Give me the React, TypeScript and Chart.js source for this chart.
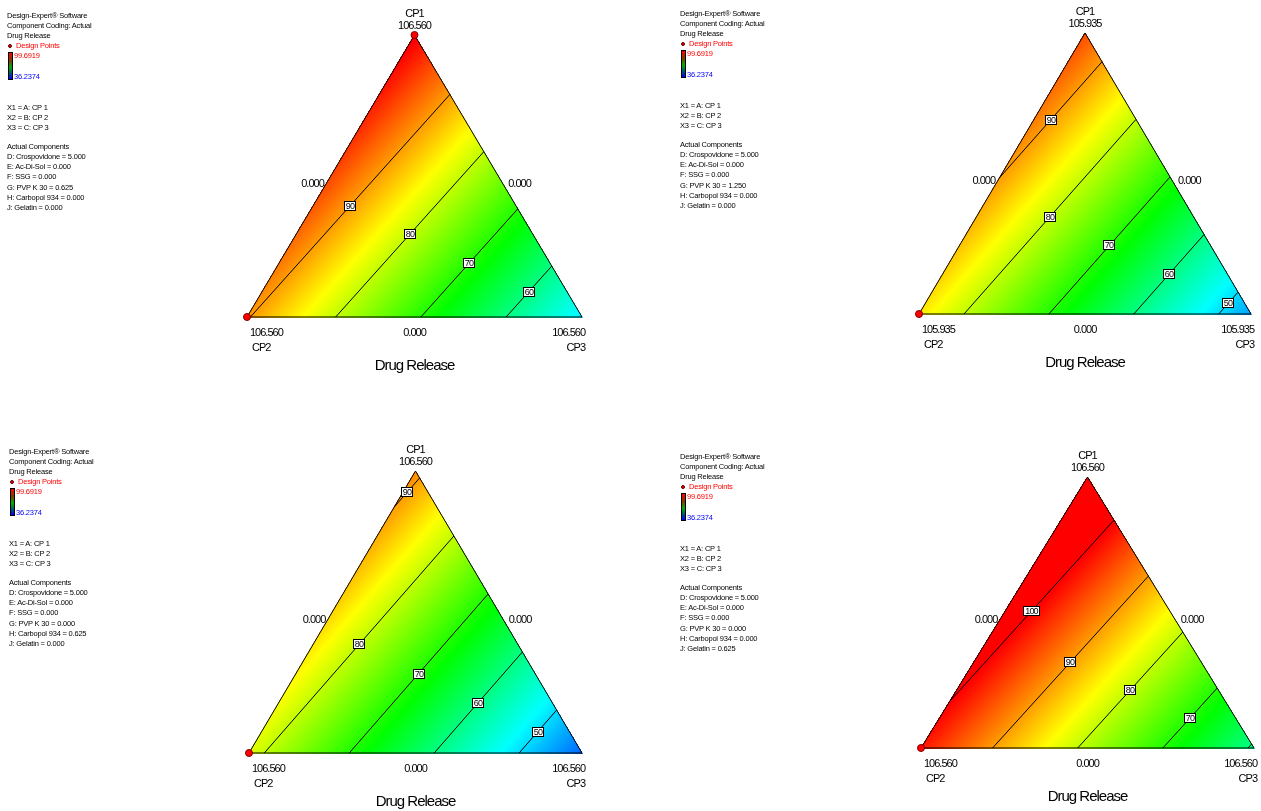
import React, { useEffect, useRef } from "react";
import { Chart, registerables } from "chart.js";

Chart.register(...registerables);

const PAGE_W = 1261;
const PAGE_H = 811;

// ---------------- data ----------------
const componentNames = ["CP1", "CP2", "CP3"];
const responseName = "Drug Release";
// fitted Drug Release at the pure-component vertices
const cp1Response = [100.4, 95.0, 91.2, 107.7];
const cp2Response = [90.4, 85.3, 81.8, 98.4];
const cp3Response = [51.1, 46.2, 42.6, 59.3];
const contourLevels = [
  [90, 80, 70, 60],
  [90, 80, 70, 60, 50],
  [90, 80, 70, 60, 50],
  [100, 90, 80, 70, 60],
];
const labelledLevels = [
  [90, 80, 70, 60],
  [90, 80, 70, 60, 50],
  [90, 80, 70, 60, 50],
  [100, 90, 80, 70],
];
const vertexTickLabels = ["106.560", "105.935", "106.560", "106.560"];
const edgeTickLabel = "0.000";
const designPointVertices = [["CP1", "CP2"], ["CP2"], ["CP2"], ["CP2"]];
const colorHigh = 99.6919;
const colorLow = 36.2374;
const crospovidone = ["5.000", "5.000", "5.000", "5.000"];
const acDiSol = ["0.000", "0.000", "0.000", "0.000"];
const ssg = ["0.000", "0.000", "0.000", "0.000"];
const pvpK30 = ["0.625", "1.250", "0.000", "0.000"];
const carbopol934 = ["0.000", "0.000", "0.625", "0.000"];
const gelatin = ["0.000", "0.000", "0.000", "0.625"];

// ---------------- layout ----------------
const panels = [
  { left: 247, right: 582, top: 35, bottom: 317, lx: 7, ly: 16 },
  { left: 919, right: 1251, top: 33, bottom: 314, lx: 680, ly: 14 },
  { left: 249, right: 582, top: 471, bottom: 753, lx: 9, ly: 452 },
  { left: 921, right: 1254, top: 477, bottom: 748, lx: 680, ly: 457 },
];

const FONT = '"Liberation Sans", Arial, Helvetica, sans-serif';

type Bary = number[]; // [CP1, CP2, CP3]
const toXY = (b: Bary) => ({ x: b[2] + b[0] / 2, y: b[0] });
const vertexBary: Record<string, Bary> = {
  CP1: [1, 0, 0],
  CP2: [0, 1, 0],
  CP3: [0, 0, 1],
};

function contourSegment(v: number[], L: number) {
  const verts = [vertexBary.CP1, vertexBary.CP2, vertexBary.CP3];
  const pts: { x: number; y: number }[] = [];
  const edges = [
    [1, 2],
    [2, 0],
    [0, 1],
  ];
  for (const [i, j] of edges) {
    const vi = v[i];
    const vj = v[j];
    if (vi === vj) continue;
    if ((L - vi) * (L - vj) <= 0) {
      const t = (L - vi) / (vj - vi);
      const b = verts[i].map((q, k) => q * (1 - t) + verts[j][k] * t);
      pts.push(toXY(b));
    }
  }
  return pts.slice(0, 2);
}

function ramp(val: number): [number, number, number] {
  let t = (val - colorLow) / (colorHigh - colorLow);
  t = Math.max(0, Math.min(1, t));
  const stops: [number, number, number, number][] = [
    [0, 0, 0, 255],
    [0.25, 0, 255, 255],
    [0.5, 0, 255, 0],
    [0.75, 255, 255, 0],
    [1, 255, 0, 0],
  ];
  for (let k = 0; k < stops.length - 1; k++) {
    const a = stops[k];
    const b = stops[k + 1];
    if (t <= b[0]) {
      const f = (t - a[0]) / (b[0] - a[0]);
      return [
        a[1] + (b[1] - a[1]) * f,
        a[2] + (b[2] - a[2]) * f,
        a[3] + (b[3] - a[3]) * f,
      ];
    }
  }
  return [255, 0, 0];
}

function TernaryChart({ idx }: { idx: number }) {
  const ref = useRef<HTMLCanvasElement | null>(null);
  useEffect(() => {
    const canvas = ref.current;
    if (!canvas) return;
    const p = panels[idx];
    const v = [cp1Response[idx], cp2Response[idx], cp3Response[idx]];

    const fillPlugin = {
      id: "ternaryFill" + idx,
      beforeDatasetsDraw(chart: any) {
        const { ctx, chartArea, scales } = chart;
        const x0 = Math.floor(chartArea.left);
        const y0 = Math.floor(chartArea.top);
        const w = Math.ceil(chartArea.right) - x0 + 1;
        const h = Math.ceil(chartArea.bottom) - y0 + 1;
        const img = ctx.createImageData(w, h);
        const d = img.data;
        for (let py = 0; py < h; py++) {
          const dy = scales.y.getValueForPixel(y0 + py + 0.5);
          for (let px = 0; px < w; px++) {
            const dx = scales.x.getValueForPixel(x0 + px + 0.5);
            const a = dy;
            const c = dx - a / 2;
            const b = 1 - a - c;
            const eps = -0.002;
            if (a < eps || b < eps || c < eps) continue;
            const val = a * v[0] + b * v[1] + c * v[2];
            const col = ramp(val);
            const o = (py * w + px) * 4;
            d[o] = col[0];
            d[o + 1] = col[1];
            d[o + 2] = col[2];
            d[o + 3] = 255;
          }
        }
        ctx.putImageData(img, x0, y0);
      },
    };

    const labelPlugin = {
      id: "ternaryLabels" + idx,
      afterDatasetsDraw(chart: any) {
        const { ctx } = chart;
        const sx = chart.scales.x;
        const sy = chart.scales.y;
        const P = (pt: { x: number; y: number }) => ({
          x: sx.getPixelForValue(pt.x),
          y: sy.getPixelForValue(pt.y),
        });
        const T = P(toXY(vertexBary.CP1));
        const L = P(toXY(vertexBary.CP2));
        const R = P(toXY(vertexBary.CP3));
        ctx.save();
        // contour labels
        ctx.font = "9px " + FONT;
        (ctx as any).letterSpacing = "-0.8px";
        ctx.textAlign = "center";
        ctx.textBaseline = "middle";
        for (const lev of labelledLevels[idx]) {
          const seg = contourSegment(v, lev);
          if (seg.length < 2) continue;
          const a = P(seg[0]);
          const b = P(seg[1]);
          const mx = (a.x + b.x) / 2;
          const my = (a.y + b.y) / 2;
          const txt = String(lev);
          const w = Math.round(ctx.measureText(txt).width + 4);
          const h = 10;
          const bx = Math.round(mx - w / 2);
          const by = Math.round(my - h / 2);
          ctx.fillStyle = "#ffffff";
          ctx.fillRect(bx, by, w, h);
          ctx.strokeStyle = "#000";
          ctx.lineWidth = 1;
          ctx.strokeRect(bx + 0.5, by + 0.5, w - 1, h - 1);
          ctx.fillStyle = "#000";
          ctx.fillText(txt, bx + w / 2, by + h / 2 + 0.5);
        }
        // axis labels
        ctx.fillStyle = "#000";
        ctx.font = "11px " + FONT;
        (ctx as any).letterSpacing = "-1px";
        ctx.textBaseline = "middle";
        ctx.textAlign = "center";
        ctx.fillText(componentNames[0], T.x, T.y - 21);
        ctx.fillText(vertexTickLabels[idx], T.x, T.y - 9);
        const midL = { x: (T.x + L.x) / 2, y: (T.y + L.y) / 2 };
        const midR = { x: (T.x + R.x) / 2, y: (T.y + R.y) / 2 };
        const midB = { x: (L.x + R.x) / 2, y: L.y };
        ctx.textAlign = "right";
        ctx.fillText(edgeTickLabel, midL.x - 7, midL.y + 7.5);
        ctx.textAlign = "left";
        ctx.fillText(edgeTickLabel, midR.x + 10, midR.y + 7.5);
        ctx.textAlign = "center";
        ctx.fillText(edgeTickLabel, midB.x, L.y + 16);
        ctx.textAlign = "left";
        ctx.fillText(vertexTickLabels[idx], L.x + 3, L.y + 16);
        ctx.fillText(componentNames[1], L.x + 5, L.y + 31);
        ctx.textAlign = "right";
        ctx.fillText(vertexTickLabels[idx], R.x + 3, R.y + 16);
        ctx.fillText(componentNames[2], R.x + 3, R.y + 31);
        ctx.font = "15px " + FONT;
        ctx.textAlign = "center";
        ctx.fillText(responseName, midB.x, L.y + 49);
        ctx.restore();
      },
    };

    const lineDatasets = contourLevels[idx]
      .map((lev) => contourSegment(v, lev))
      .filter((s) => s.length === 2)
      .map((seg) => ({
        type: "line" as const,
        data: seg,
        borderColor: "#000",
        borderWidth: 1,
        pointRadius: 0,
        fill: false,
        clip: false as any,
        showLine: true,
      }));

    const chart = new Chart(canvas, {
      type: "scatter",
      data: {
        datasets: [
          {
            type: "scatter",
            data: designPointVertices[idx].map((n) => toXY(vertexBary[n])),
            pointRadius: 3.5,
            backgroundColor: "#ff0000",
            borderColor: "#7a0000",
            borderWidth: 1,
            clip: false as any,
          },
          {
            type: "line",
            data: [
              toXY(vertexBary.CP2),
              toXY(vertexBary.CP3),
              toXY(vertexBary.CP1),
              toXY(vertexBary.CP2),
            ],
            borderColor: "#000",
            borderWidth: 1,
            pointRadius: 0,
            fill: false,
            clip: false as any,
            showLine: true,
          },
          ...lineDatasets,
        ] as any,
      },
      options: {
        animation: false,
        responsive: false,
        events: [],
        layout: {
          padding: {
            left: p.left,
            right: PAGE_W - p.right,
            top: p.top,
            bottom: PAGE_H - p.bottom,
          },
        },
        scales: {
          x: { type: "linear", min: 0, max: 1, display: false },
          y: { type: "linear", min: 0, max: 1, display: false },
        },
        plugins: {
          legend: { display: false },
          tooltip: { enabled: false },
        },
      },
      plugins: [fillPlugin, labelPlugin],
    });
    return () => chart.destroy();
  }, [idx]);

  return (
    <canvas
      ref={ref}
      width={PAGE_W}
      height={PAGE_H}
      style={{ position: "absolute", left: 0, top: 0, width: PAGE_W, height: PAGE_H }}
    />
  );
}

function InfoLegend({ idx }: { idx: number }) {
  const p = panels[idx];
  const lines: { dy: number; dx?: number; text: string; color?: string }[] = [
    { dy: 0, text: "Design-Expert® Software" },
    { dy: 10, text: "Component Coding: Actual" },
    { dy: 20, text: responseName },
    { dy: 30, dx: 9, text: "Design Points", color: "#ff0000" },
    { dy: 40, dx: 7, text: colorHigh.toFixed(4), color: "#ff0000" },
    { dy: 61, dx: 7, text: colorLow.toFixed(4), color: "#0000ff" },
    { dy: 92, text: "X1 = A: CP 1" },
    { dy: 102, text: "X2 = B: CP 2" },
    { dy: 112, text: "X3 = C: CP 3" },
    { dy: 131, text: "Actual Components" },
    { dy: 141, text: "D: Crospovidone = " + crospovidone[idx] },
    { dy: 151, text: "E: Ac-Di-Sol = " + acDiSol[idx] },
    { dy: 161, text: "F: SSG = " + ssg[idx] },
    { dy: 172, text: "G: PVP K 30 = " + pvpK30[idx] },
    { dy: 182, text: "H: Carbopol 934 = " + carbopol934[idx] },
    { dy: 192, text: "J: Gelatin = " + gelatin[idx] },
  ];
  return (
    <>
      {lines.map((l, k) => (
        <div
          key={k}
          style={{
            position: "absolute",
            left: p.lx + (l.dx || 0),
            top: p.ly + l.dy - 5,
            fontFamily: FONT,
            fontSize: "7.5px",
            lineHeight: "10px",
            letterSpacing: "-0.2px",
            color: l.color || "#000",
            whiteSpace: "nowrap",
          }}
        >
          {l.text}
        </div>
      ))}
      <div
        style={{
          position: "absolute",
          left: p.lx + 1,
          top: p.ly + 28,
          width: 4,
          height: 4,
          borderRadius: "50%",
          background: "#ff0000",
          border: "1px solid #500000",
          boxSizing: "border-box",
        }}
      />
      <div
        style={{
          position: "absolute",
          left: p.lx + 1,
          top: p.ly + 36,
          width: 5,
          height: 28,
          border: "1px solid #000",
          boxSizing: "border-box",
          background:
            "linear-gradient(to bottom, #ff0000 0%, #7a4000 30%, #00b000 55%, #006060 75%, #0000ff 100%)",
        }}
      />
    </>
  );
}

export default function App() {
  return (
    <div
      style={{
        position: "absolute",
        left: 0,
        top: 0,
        width: PAGE_W,
        height: PAGE_H,
        background: "#ffffff",
        overflow: "hidden",
      }}
    >
      {[0, 1, 2, 3].map((i) => (
        <TernaryChart key={"c" + i} idx={i} />
      ))}
      {[0, 1, 2, 3].map((i) => (
        <InfoLegend key={"l" + i} idx={i} />
      ))}
    </div>
  );
}
